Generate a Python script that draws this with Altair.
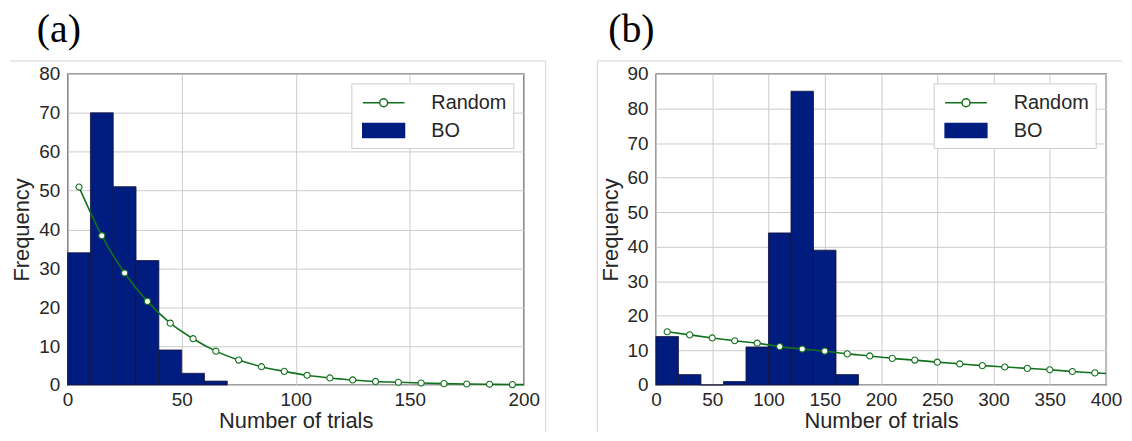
import altair as alt
import pandas as pd

# ---------------- data ----------------
# Panel (a)
bo_a_start = [0, 10, 20, 30, 40, 50, 60]
bo_a_end = [10, 20, 30, 40, 50, 60, 70]
bo_a_count = [34, 70, 51, 32, 9, 3, 1]
rand_a_x = [5, 15, 25, 35, 45, 55, 65, 75, 85, 95, 105, 115, 125, 135, 145, 155, 165, 175, 185, 195]
rand_a_y = [50.9, 38.4, 28.8, 21.5, 15.9, 11.9, 8.7, 6.4, 4.7, 3.5, 2.5, 1.8, 1.3, 0.9, 0.7, 0.5, 0.35, 0.25, 0.17, 0.1]
rand_a_end = (200, 0.09)

# Panel (b)
bo_b_start = [0, 20, 40, 60, 80, 100, 120, 140, 160]
bo_b_end = [20, 40, 60, 80, 100, 120, 140, 160, 180]
bo_b_count = [14, 3, 0, 1, 11, 44, 85, 39, 3]
rand_b_x = [10, 30, 50, 70, 90, 110, 130, 150, 170, 190, 210, 230, 250, 270, 290, 310, 330, 350, 370, 390]
rand_b_y = [15.4, 14.5, 13.6, 12.8, 12.1, 11.1, 10.4, 9.8, 9.0, 8.4, 7.7, 7.2, 6.6, 6.1, 5.6, 5.2, 4.8, 4.4, 3.9, 3.5]
rand_b_end = (400, 3.3)

xticks_a = [0, 50, 100, 150, 200]
xticks_b = [0, 50, 100, 150, 200, 250, 300, 350, 400]
yticks_a = [0, 10, 20, 30, 40, 50, 60, 70, 80]
yticks_b = [0, 10, 20, 30, 40, 50, 60, 70, 80, 90]

NAVY = "#001c7f"
GREEN = "#12711c"
SANS = "Liberation Sans"
SERIF = "Liberation Serif"

RANDOM_PATH = "M-1,0H0.7M1.5,0H3.2M0.7,0A0.4,0.4 0 1,0 1.5,0A0.4,0.4 0 1,0 0.7,0Z"
BO_PATH = "M-1,-0.7H3.2V0.7H-1Z"

PLOT_H = 313


def legend_for(x, y, shape, fillc, strokec):
    return alt.Legend(
        title=None,
        orient="none",
        legendX=x,
        legendY=y,
        padding=0,
        symbolType=shape,
        symbolSize=400,
        symbolFillColor=fillc,
        symbolStrokeColor=strokec,
        symbolStrokeWidth=1.5,
        symbolOpacity=1,
        labelOffset=48,
        labelFont=SANS,
        labelFontSize=20,
        labelColor="#262626",
        strokeColor="transparent",
        fillColor="transparent",
    )


def panel(bs, be, cnt, rx, ry, end, xmax, ymax, xticks, yticks, label, label_x, width, rules):
    bars = pd.DataFrame({"start": bs, "end": be, "count": cnt, "series": ["BO"] * len(bs)})
    pts = pd.DataFrame({"x": rx, "y": ry})
    line = pd.DataFrame({"x": rx + [end[0]], "y": ry + [end[1]], "series": ["Random"] * (len(rx) + 1)})

    xscale = alt.Scale(domain=[0, xmax], nice=False, zero=True)
    yscale = alt.Scale(domain=[0, ymax], nice=False)
    xaxis = alt.Axis(values=xticks, title="Number of trials", format="d", labelFlush=False)
    yaxis = alt.Axis(values=yticks, title="Frequency", format="d", labelFlush=False)

    sym_left = width - 163
    bar_layer = alt.Chart(bars).mark_bar(stroke="#14143a", strokeWidth=0.8, opacity=1).encode(
        x=alt.X("start:Q", scale=xscale, axis=xaxis),
        x2="end:Q",
        y=alt.Y("count:Q", scale=yscale, axis=yaxis),
        y2=alt.datum(0),
        fill=alt.Fill("series:N", scale=alt.Scale(domain=["BO"], range=[NAVY]),
                      legend=legend_for(sym_left, 46, BO_PATH, NAVY, NAVY)),
    )
    line_layer = alt.Chart(line).mark_line(strokeWidth=1.6, interpolate="monotone").encode(
        x=alt.X("x:Q", scale=xscale, axis=xaxis),
        y=alt.Y("y:Q", scale=yscale, axis=yaxis),
        stroke=alt.Stroke("series:N", scale=alt.Scale(domain=["Random"], range=[GREEN]),
                          legend=legend_for(sym_left, 18, RANDOM_PATH, "#ffffff", GREEN)),
    )
    pt_layer = alt.Chart(pts).mark_point(
        shape="circle", filled=True, fill="#ffffff", stroke=GREEN, strokeWidth=1.1, size=38, opacity=1
    ).encode(
        x=alt.X("x:Q", scale=xscale, axis=xaxis),
        y=alt.Y("y:Q", scale=yscale, axis=yaxis),
    )

    one = pd.DataFrame({"k": [0]})
    legend_box = alt.Chart(one).mark_rect(fill="#ffffff", stroke="#cccccc", strokeWidth=1).encode(
        x=alt.value(width - 173), x2=alt.value(width - 10), y=alt.value(10), y2=alt.value(75)
    )
    tag = alt.Chart(one).mark_text(
        text=label, font=SERIF, fontSize=40, align="left", baseline="alphabetic", color="#000000"
    ).encode(x=alt.value(label_x), y=alt.value(-32))
    deco = []
    for (x1, x2, y1, y2) in rules:
        r = alt.Chart(one).mark_rule(color="#d4d4d4", strokeWidth=1, clip=False)
        if y2 is None:
            deco.append(r.encode(x=alt.value(x1), x2=alt.value(x2), y=alt.value(y1)))
        else:
            deco.append(r.encode(x=alt.value(x1), y=alt.value(y1), y2=alt.value(y2)))

    return alt.layer(bar_layer, line_layer, pt_layer, legend_box, tag, *deco).properties(
        width=width,
        height=PLOT_H,
    )


pa = panel(bo_a_start, bo_a_end, bo_a_count, rand_a_x, rand_a_y, rand_a_end, 200, 80,
           xticks_a, yticks_a, "(a)", -31, 459,
           [(-58, 481, -13, None), (481, None, -13, 360)])
pb = panel(bo_b_start, bo_b_end, bo_b_count, rand_b_x, rand_b_y, rand_b_end, 400, 90,
           xticks_b, yticks_b, "(b)", -48, 453,
           [(-59, 469, -13, None), (-59, None, -13, 360)])

chart = alt.hconcat(pa, pb, spacing=48).resolve_scale(
    fill="independent", stroke="independent"
).resolve_legend(
    fill="independent", stroke="independent"
).properties(
    padding={"left": 0, "top": 0, "right": 0, "bottom": 0},
    background="#ffffff",
).configure_view(
    stroke="#3a3a3a", strokeWidth=1.3
).configure_axis(
    labelFont=SANS,
    labelFontSize=19,
    labelColor="#262626",
    titleFont=SANS,
    titleFontSize=22,
    titleFontWeight="normal",
    titleColor="#262626",
    grid=True,
    gridColor="#cccccc",
    gridWidth=1,
    domain=False,
    ticks=False,
).configure_axisX(
    labelPadding=6, titlePadding=1
).configure_axisY(
    labelPadding=8, titlePadding=5
)

chart.save("out.html", embed_options={"renderer": "svg", "actions": False})
